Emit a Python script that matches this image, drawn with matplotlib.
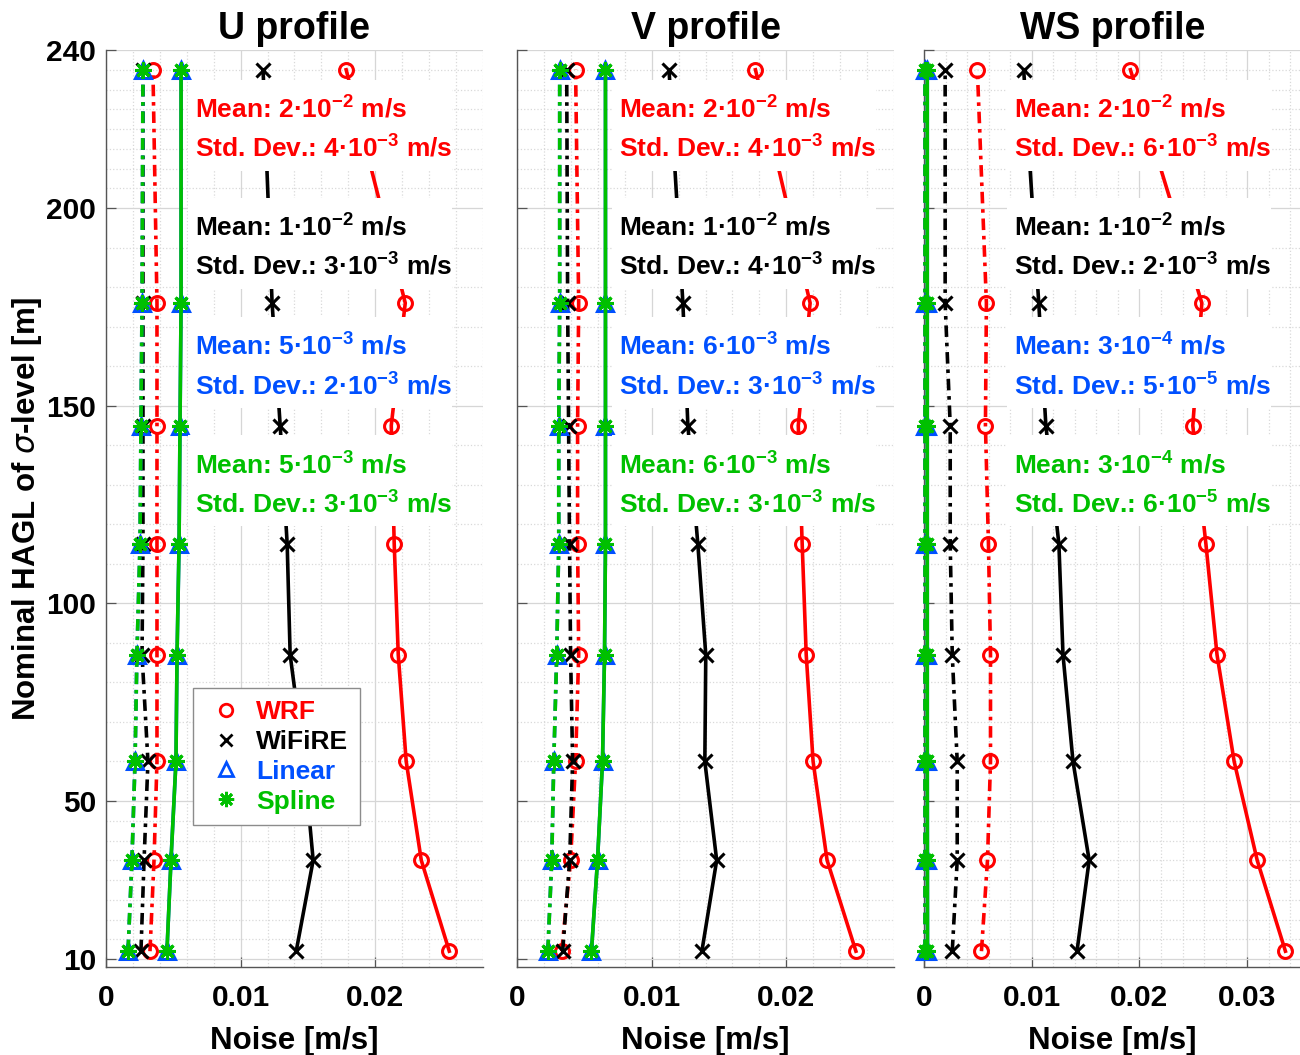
#%%
# Imports
import numpy as np
import matplotlib.pyplot as plt
from matplotlib.lines import Line2D
from matplotlib.patches import Rectangle


#%%
# Data: noise profiles at the sigma levels

heights = [12, 35, 60, 87, 115, 145, 176, 235]   # m

# U profile
wrf_mean_u    = [0.02550, 0.02342, 0.02230, 0.02171, 0.02141, 0.02119, 0.02223, 0.01784]
wrf_std_u     = [0.00327, 0.00357, 0.00379, 0.00379, 0.00379, 0.00379, 0.00379, 0.00349]
wifire_mean_u = [0.01413, 0.01539, 0.01472, 0.01368, 0.01346, 0.01294, 0.01234, 0.01167]
wifire_std_u  = [0.00260, 0.00283, 0.00312, 0.00268, 0.00275, 0.00275, 0.00275, 0.00275]
linear_mean_u = [0.00453, 0.00483, 0.00520, 0.00528, 0.00543, 0.00550, 0.00558, 0.00558]
linear_std_u  = [0.00164, 0.00193, 0.00216, 0.00230, 0.00253, 0.00260, 0.00268, 0.00275]
spline_mean_u = [0.00453, 0.00483, 0.00520, 0.00528, 0.00543, 0.00550, 0.00558, 0.00558]
spline_std_u  = [0.00164, 0.00193, 0.00216, 0.00230, 0.00253, 0.00260, 0.00268, 0.00275]

# V profile
wrf_mean_v    = [0.02517, 0.02303, 0.02199, 0.02148, 0.02118, 0.02089, 0.02177, 0.01771]
wrf_std_v     = [0.00332, 0.00398, 0.00435, 0.00458, 0.00450, 0.00450, 0.00458, 0.00435]
wifire_mean_v = [0.01373, 0.01483, 0.01395, 0.01402, 0.01343, 0.01269, 0.01232, 0.01129]
wifire_std_v  = [0.00339, 0.00391, 0.00413, 0.00398, 0.00390, 0.00383, 0.00376, 0.00369]
linear_mean_v = [0.00553, 0.00598, 0.00635, 0.00650, 0.00657, 0.00657, 0.00657, 0.00657]
linear_std_v  = [0.00229, 0.00258, 0.00273, 0.00295, 0.00310, 0.00310, 0.00317, 0.00317]
spline_mean_v = [0.00553, 0.00598, 0.00635, 0.00650, 0.00657, 0.00657, 0.00657, 0.00657]
spline_std_v  = [0.00229, 0.00258, 0.00273, 0.00295, 0.00310, 0.00310, 0.00317, 0.00317]

# WS profile
wrf_mean_ws    = [0.03355, 0.03093, 0.02879, 0.02720, 0.02617, 0.02495, 0.02579, 0.01916]
wrf_std_ws     = [0.00533, 0.00589, 0.00617, 0.00617, 0.00598, 0.00570, 0.00579, 0.00495]
wifire_mean_ws = [0.01420, 0.01533, 0.01383, 0.01290, 0.01252, 0.01131, 0.01065, 0.00925]
wifire_std_ws  = [0.00262, 0.00308, 0.00308, 0.00262, 0.00243, 0.00243, 0.00196, 0.00196]
linear_mean_ws = [0.00032, 0.00031, 0.00030, 0.00030, 0.00030, 0.00030, 0.00030, 0.00030]
linear_std_ws  = [0.00008, 0.00008, 0.00008, 0.00008, 0.00008, 0.00008, 0.00008, 0.00008]
spline_mean_ws = [0.00032, 0.00031, 0.00030, 0.00030, 0.00030, 0.00030, 0.00030, 0.00030]
spline_std_ws  = [0.00008, 0.00008, 0.00008, 0.00008, 0.00008, 0.00008, 0.00008, 0.00008]

# summary statistics written on each panel: (mean, std. dev.) per model
stats_u  = [('2', '-2', '4', '-3'), ('1', '-2', '3', '-3'), ('5', '-3', '2', '-3'), ('5', '-3', '3', '-3')]
stats_v  = [('2', '-2', '4', '-3'), ('1', '-2', '4', '-3'), ('6', '-3', '3', '-3'), ('6', '-3', '3', '-3')]
stats_ws = [('2', '-2', '6', '-3'), ('1', '-2', '2', '-3'), ('3', '-4', '5', '-5'), ('3', '-4', '6', '-5')]

titles = ['U profile', 'V profile', 'WS profile']
models = ['WRF', 'WiFiRE', 'Linear', 'Spline']


#%%
# Style

plt.rcParams['font.family'] = ['Liberation Sans', 'DejaVu Sans']
plt.rcParams['font.weight'] = 'bold'
plt.rcParams['mathtext.fontset'] = 'custom'
plt.rcParams['mathtext.it'] = 'DejaVu Sans:italic:normal'
plt.rcParams['mathtext.default'] = 'regular'

RED = '#ff0000'
BLACK = '#000000'
BLUE = '#0050ff'
GREEN = '#00c000'
colors = [RED, BLACK, BLUE, GREEN]

ASTER = (8, 2, 0)
markers = ['o', 'x', '^', ASTER]
msizes = [10, 10, 11, 12]

DASHDOT = (3.2, 1.6, 1.0, 1.6)
LW = 2.6


#%%
# Figure

fig = plt.figure(figsize=(13, 10.55), dpi=100)

panel_left = [0.0815, 0.3977, 0.7108]
panel_w = 0.2900
panel_b = 0.0834
panel_h = 0.8692

xmaxs = [0.028, 0.028, 0.035]
xticks = [[0, 0.01, 0.02], [0, 0.01, 0.02], [0, 0.01, 0.02, 0.03]]
text_x = [0.236, 0.271, 0.239]      # axes fraction of the statistics text

series = [
    [(wrf_mean_u, wrf_std_u), (wifire_mean_u, wifire_std_u),
     (linear_mean_u, linear_std_u), (spline_mean_u, spline_std_u)],
    [(wrf_mean_v, wrf_std_v), (wifire_mean_v, wifire_std_v),
     (linear_mean_v, linear_std_v), (spline_mean_v, spline_std_v)],
    [(wrf_mean_ws, wrf_std_ws), (wifire_mean_ws, wifire_std_ws),
     (linear_mean_ws, linear_std_ws), (spline_mean_ws, spline_std_ws)],
]
stats = [stats_u, stats_v, stats_ws]

# baselines of the "Mean" / "Std. Dev." lines for each model group
mean_base = [222.7, 192.8, 162.7, 132.7]
std_base = [212.8, 183.0, 152.8, 122.9]

y_minor = [15, 20, 25, 30, 35, 40, 45, 60, 70, 80, 90, 110, 120, 130, 140,
           160, 170, 180, 190, 205, 210, 215, 220, 225, 230, 235]

axes = []
for k in range(3):
    ax = fig.add_axes([panel_left[k], panel_b, panel_w, panel_h])
    axes.append(ax)

    for m in range(4):
        mean, std = series[k][m]
        ax.plot(mean, heights, '-', color=colors[m], lw=LW,
                marker=markers[m], ms=msizes[m], mew=2.2, mfc='none',
                clip_on=False, zorder=3)
        ax.plot(std, heights, color=colors[m], lw=LW, dashes=DASHDOT,
                marker=markers[m], ms=msizes[m], mew=2.2, mfc='none',
                clip_on=False, zorder=3)

    # statistics, each group on a white patch
    tr = ax.get_yaxis_transform()
    for m in range(4):
        mu, mu_e, sd, sd_e = stats[k][m]
        ax.add_patch(Rectangle((text_x[k] - 0.019, std_base[m] - 3.4),
                               0.70, (mean_base[m] + 9.8) - (std_base[m] - 3.4),
                               transform=tr, facecolor='white',
                               edgecolor='none', zorder=4))
        ax.text(text_x[k], mean_base[m],
                'Mean: ' + mu + '·10$^{' + mu_e + '}$ m/s',
                transform=tr, color=colors[m], fontsize=19,
                ha='left', va='baseline', zorder=5)
        ax.text(text_x[k], std_base[m],
                'Std. Dev.: ' + sd + '·10$^{' + sd_e + '}$ m/s',
                transform=tr, color=colors[m], fontsize=19,
                ha='left', va='baseline', zorder=5)

    ax.set_xlim(0, xmaxs[k])
    ax.set_ylim(8, 240)
    ax.set_xticks(xticks[k])
    ax.set_xticklabels(['0' if t == 0 else '%g' % t for t in xticks[k]])
    ax.set_xticks(np.arange(0, xmaxs[k] + 1e-9, 0.002), minor=True)
    ax.set_yticks([10, 50, 100, 150, 200, 240])
    ax.set_yticks(y_minor, minor=True)
    if k > 0:
        ax.set_yticklabels([])

    ax.set_axisbelow(True)
    ax.grid(which='major', color='#d6d6d6', lw=0.9)
    ax.grid(which='minor', color='#d9d9d9', lw=0.9, ls=':')

    ax.spines['top'].set_visible(False)
    ax.spines['right'].set_visible(False)
    for s in ['left', 'bottom']:
        ax.spines[s].set_color('#555555')
        ax.spines[s].set_linewidth(1.0)

    ax.tick_params(which='major', direction='in', length=7, width=0.9,
                   color='#555555', labelsize=21.5)
    ax.tick_params(axis='x', which='major', pad=12)
    ax.tick_params(axis='y', which='major', pad=7)
    ax.tick_params(which='minor', length=0)

    ax.set_title(titles[k], fontsize=27, fontweight='bold', pad=8)
    ax.set_xlabel('Noise [m/s]', fontsize=22.5, fontweight='bold', labelpad=10)

axes[0].set_ylabel('Nominal HAGL of $\\mathit{\\sigma}$-level [m]',
                   fontsize=22.5, fontweight='bold', labelpad=2)

# legend with markers only
handles = [Line2D([], [], ls='none', marker=markers[m], ms=msizes[m] - 1,
                  mew=2, mfc='none', color=colors[m]) for m in range(4)]
leg = axes[0].legend(handles, models, loc='upper left',
                     bbox_to_anchor=(0.23, 0.304), borderaxespad=0,
                     fontsize=19, labelcolor=colors, handlelength=1.6,
                     handletextpad=0.35, labelspacing=0.22, borderpad=0.45,
                     fancybox=False, framealpha=1, edgecolor='#8c8c8c')
leg.get_frame().set_linewidth(1.0)
leg.set_zorder(10)

fig.savefig('out.png', dpi=100)
